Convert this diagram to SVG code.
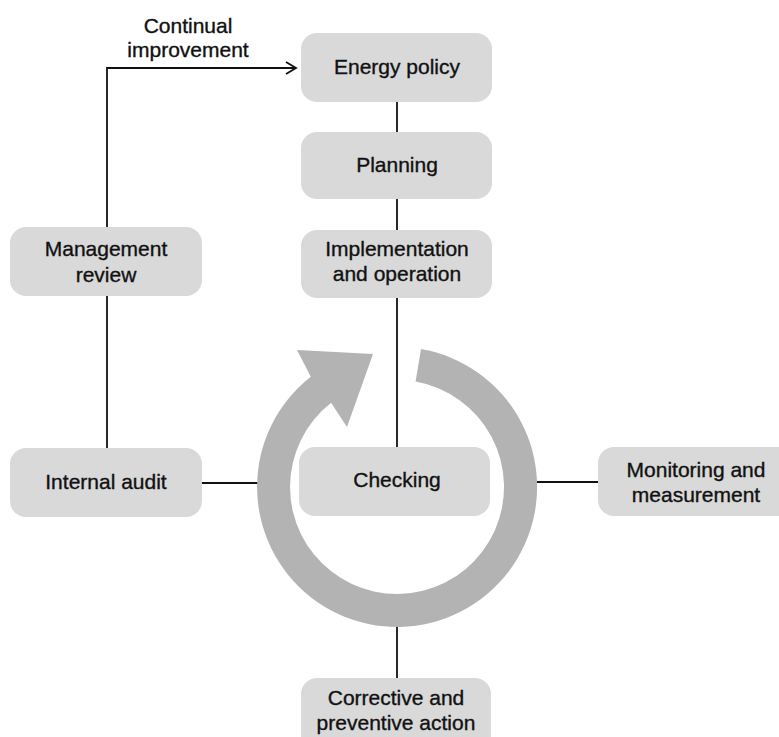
<svg xmlns="http://www.w3.org/2000/svg" width="779" height="737" viewBox="0 0 779 737">
<style>
.box{fill:#d9d9d9}
.t{font-family:"Liberation Sans",Arial,sans-serif;font-size:21px;fill:#111;stroke:#111;stroke-width:0.35;text-anchor:middle}
.ln{stroke:#111;stroke-width:1.8;fill:none}
</style>
<rect width="779" height="737" fill="#fff"/>
<g id="connectors">
<line class="ln" x1="397" y1="102" x2="397" y2="132"/>
<line class="ln" x1="397" y1="199" x2="397" y2="230"/>
<line class="ln" x1="397" y1="298" x2="397" y2="447"/>
<line class="ln" x1="397" y1="620" x2="397" y2="678"/>
<line class="ln" x1="202" y1="483" x2="262" y2="483"/>
<line class="ln" x1="530" y1="482" x2="598" y2="482"/>
<line class="ln" x1="107" y1="448" x2="107" y2="296"/>
<polyline class="ln" points="107,227 107,68 295,68"/>
<polyline class="ln" points="286,62 296,68 286,74"/>
</g>
<g id="cycle">
<path fill="#b3b3b3" d="M421,349 A140,140 0 1 1 310.8,376.7 L297,350 L373,354 L347,427 L331.1,402.7 A107,107 0 1 0 415.6,381.6 Z"/>
</g>
<g id="energy-policy"><rect class="box" x="301" y="33" width="191" height="69" rx="16"/><text class="t" x="397" y="74">Energy policy</text></g>
<g id="planning"><rect class="box" x="301" y="132" width="191" height="67" rx="16"/><text class="t" x="397" y="172">Planning</text></g>
<g id="implementation"><rect class="box" x="301" y="230" width="191" height="68" rx="16"/><text class="t" x="397" y="256">Implementation</text><text class="t" x="397" y="281">and operation</text></g>
<g id="checking"><rect class="box" x="299" y="447" width="191" height="69" rx="16"/><text class="t" x="397" y="487">Checking</text></g>
<g id="management-review"><rect class="box" x="10" y="227" width="192" height="69" rx="16"/><text class="t" x="106" y="256">Management</text><text class="t" x="106" y="282">review</text></g>
<g id="internal-audit"><rect class="box" x="10" y="448" width="192" height="69" rx="16"/><text class="t" x="106" y="489">Internal audit</text></g>
<g id="monitoring"><rect class="box" x="598" y="447" width="200" height="69" rx="16"/><text class="t" x="696" y="477">Monitoring and</text><text class="t" x="696" y="502">measurement</text></g>
<g id="corrective"><rect class="box" x="301" y="678" width="190" height="80" rx="16"/><text class="t" x="396" y="705">Corrective and</text><text class="t" x="396" y="730">preventive action</text></g>
<g id="continual-label"><text class="t" x="188" y="33">Continual</text><text class="t" x="188" y="57">improvement</text></g>
</svg>
